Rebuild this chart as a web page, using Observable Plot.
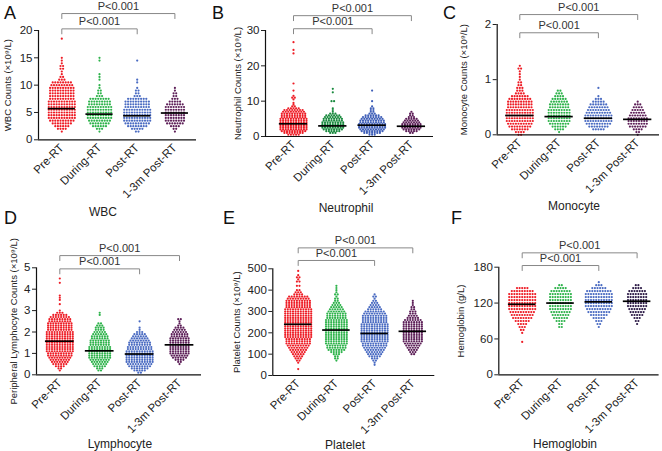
<!DOCTYPE html>
<html><head><meta charset="utf-8">
<script src="https://cdn.jsdelivr.net/npm/d3@7"></script>
<script src="https://cdn.jsdelivr.net/npm/@observablehq/plot@0.6"></script>
<style>
body{margin:0;background:#fff;font-family:"Liberation Sans",Arial,sans-serif}
#fig{position:relative;width:662px;height:451px;overflow:hidden;background:#fff}
.panel{position:absolute}
.letter{position:absolute;font-size:18px;line-height:1;color:#111}
.title{position:absolute;font-size:12px;line-height:1;color:#222;transform:translate(-50%,-50%);white-space:nowrap}
</style></head><body><div id="fig"></div>
<script>
const groups = ["Pre-RT", "During-RT", "Post-RT", "1-3m Post-RT"];

// [value, number of patients at that level]
const wbcPre = [[1.5,1],[2,4],[2.5,6],[3,8],[3.5,10],[4,11],[4.5,11],[5,11],[5.5,11],[6,11],[6.5,11],[7,11],[7.5,10],[8,10],[8.5,10],[9,10],[9.5,10],[10,9],[10.5,8],[11,3],[11.5,2],[12,1],[12.5,1],[13,2],[13.5,2],[14,1],[14.5,1],[15,1],[18.5,1]];
const wbcDuring = [[1.5,1],[2,3],[2.5,6],[3,8],[3.5,9],[4,10],[4.5,10],[5,10],[5.5,10],[6,10],[6.5,9],[7,9],[7.5,8],[8,3],[8.5,2],[9,2],[9.5,1],[10,1],[11,1],[11.5,1],[12,1],[14.5,1],[15,1]];
const wbcPost = [[1.5,2],[2,5],[2.5,8],[3,10],[3.5,11],[4,11],[4.5,11],[5,11],[5.5,11],[6,10],[6.5,10],[7,10],[7.5,8],[8,3],[8.5,2],[9,2],[9.5,1],[10.5,1],[11,1],[14.5,1]];
const wbc13m = [[1.5,1],[2,2],[2.5,4],[3,7],[3.5,8],[4,8],[4.5,8],[5,8],[5.5,8],[6,8],[6.5,7],[7,5],[7.5,3],[8,2],[8.5,2],[9,1],[9.5,1]];
const wbcMedians = [5.7, 4.7, 4.4, 4.9];
const wbcTicks = [0, 5, 10, 15, 20];

const neuPre = [[0.5,5],[1,8],[1.5,10],[2,11],[2.5,11],[3,11],[3.5,11],[4,11],[4.5,11],[5,11],[5.5,10],[6,10],[6.5,10],[7,9],[7.5,8],[8,5],[8.5,2],[9,1],[9.5,1],[10.5,1],[11,2],[11.5,1],[13,1],[15,1],[23.5,1],[24.5,1],[26.7,1]];
const neuDuring = [[1,3],[1.5,6],[2,8],[2.5,9],[3,9],[3.5,9],[4,9],[4.5,8],[5,8],[5.5,7],[6,6],[6.5,3],[7,1],[7.5,1],[8,1],[10,2],[12.5,1],[13.5,1]];
const neuPost = [[0.5,3],[1,7],[1.5,9],[2,10],[2.5,11],[3,11],[3.5,11],[4,10],[4.5,10],[5,9],[5.5,8],[6,6],[6.5,3],[7,2],[7.5,2],[8,2],[8.5,1],[10,1],[13,1]];
const neu13m = [[1,2],[1.5,5],[2,7],[2.5,8],[3,8],[3.5,8],[4,7],[4.5,6],[5,5],[5.5,3],[6,2],[6.5,2],[7,1]];
const neuMedians = [3.6, 3.0, 3.2, 2.9];
const neuTicks = [0, 10, 20, 30];

const monoPre = [[0,2],[0.05,4],[0.1,7],[0.15,9],[0.2,10],[0.25,11],[0.3,11],[0.35,11],[0.4,11],[0.45,11],[0.5,10],[0.55,10],[0.6,10],[0.65,9],[0.7,7],[0.75,4],[0.8,3],[0.85,3],[0.9,2],[0.95,2],[1,1],[1.05,1],[1.1,1],[1.15,1],[1.2,2],[1.25,1]];
const monoDuring = [[0.05,1],[0.1,4],[0.15,6],[0.2,8],[0.25,9],[0.3,9],[0.35,9],[0.4,9],[0.45,9],[0.5,8],[0.55,8],[0.6,7],[0.65,6],[0.7,4],[0.75,3],[0.8,2]];
const monoPost = [[0.1,5],[0.15,8],[0.2,10],[0.25,11],[0.3,11],[0.35,11],[0.4,10],[0.45,9],[0.5,8],[0.55,7],[0.6,5],[0.65,3],[0.7,1],[0.85,1]];
const mono13m = [[0,1],[0.05,2],[0.1,4],[0.15,7],[0.2,8],[0.25,8],[0.3,8],[0.35,7],[0.4,6],[0.45,5],[0.5,4],[0.55,3],[0.6,1]];
const monoMedians = [0.35, 0.33, 0.30, 0.28];
const monoTicks = [0, 1, 2];

const lymPre = [[0.2,1],[0.3,2],[0.4,4],[0.5,6],[0.6,7],[0.7,8],[0.8,9],[0.9,10],[1,10],[1.1,11],[1.2,11],[1.3,11],[1.4,11],[1.5,11],[1.6,11],[1.7,11],[1.8,11],[1.9,11],[2,11],[2.1,10],[2.2,10],[2.3,10],[2.4,10],[2.5,9],[2.6,9],[2.7,8],[2.8,6],[2.9,3],[3,1],[3.3,1],[3.5,1],[3.6,1],[3.7,1],[4.3,1],[4.5,1]];
const lymDuring = [[0.2,2],[0.3,3],[0.4,5],[0.5,6],[0.6,7],[0.7,8],[0.8,9],[0.9,9],[1,9],[1.1,9],[1.2,9],[1.3,9],[1.4,8],[1.5,8],[1.6,8],[1.7,7],[1.8,7],[1.9,6],[2,5],[2.1,4],[2.2,4],[2.3,3],[2.4,2],[2.8,1],[2.9,1]];
const lymPost = [[0.1,2],[0.2,5],[0.3,7],[0.4,9],[0.5,10],[0.6,11],[0.7,11],[0.8,11],[0.9,11],[1,11],[1.1,11],[1.2,10],[1.3,10],[1.4,9],[1.5,9],[1.6,8],[1.7,7],[1.8,6],[1.9,5],[2,3],[2.1,1],[2.2,1],[2.5,1]];
const lym13m = [[0.5,1],[0.6,2],[0.7,4],[0.8,6],[0.9,7],[1,8],[1.1,8],[1.2,8],[1.3,8],[1.4,8],[1.5,8],[1.6,8],[1.7,8],[1.8,7],[1.9,7],[2,6],[2.1,5],[2.2,4],[2.3,2],[2.4,1],[2.5,1],[2.6,2]];
const lymMedians = [1.57, 1.12, 0.97, 1.4];
const lymTicks = [0, 1, 2, 3, 4, 5];

const pltPre = [[30,1],[60,1],[70,2],[80,3],[90,4],[100,5],[110,6],[120,7],[130,8],[140,9],[150,10],[160,10],[170,10],[180,11],[190,11],[200,11],[210,11],[220,11],[230,11],[240,11],[250,11],[260,11],[270,11],[280,11],[290,11],[300,11],[310,11],[320,10],[330,10],[340,10],[350,10],[360,9],[370,8],[380,4],[390,3],[400,2],[420,2],[440,2],[450,1],[460,2],[470,1],[490,1]];
const pltDuring = [[70,1],[80,2],[90,2],[100,3],[110,5],[120,7],[130,8],[140,8],[150,9],[160,9],[170,9],[180,9],[190,9],[200,9],[210,9],[220,9],[230,9],[240,9],[250,9],[260,9],[270,8],[280,8],[290,8],[300,7],[310,6],[320,5],[330,4],[340,3],[350,2],[360,2],[370,1],[380,2],[390,1],[400,1],[410,1],[420,1]];
const pltPost = [[50,1],[60,1],[70,2],[80,3],[90,5],[100,6],[110,7],[120,8],[130,9],[140,10],[150,10],[160,11],[170,11],[180,11],[190,11],[200,11],[210,11],[220,11],[230,11],[240,11],[250,10],[260,10],[270,10],[280,10],[290,9],[300,8],[310,6],[320,5],[330,4],[340,3],[350,2],[360,1],[370,2],[380,1]];
const plt13m = [[100,2],[110,3],[120,4],[130,5],[140,6],[150,7],[160,8],[170,8],[180,8],[190,8],[200,8],[210,8],[220,8],[230,8],[240,8],[250,8],[260,7],[270,5],[280,4],[290,3],[300,3],[310,2],[320,2],[330,1],[340,1],[350,1]];
const pltMedians = [240, 213, 197, 207];
const pltTicks = [0, 100, 200, 300, 400, 500];

const hgbPre = [[55,1],[70,1],[75,2],[80,3],[85,4],[90,6],[95,8],[100,9],[105,10],[110,11],[115,11],[120,11],[125,11],[130,11],[135,11],[140,9],[145,5]];
const hgbDuring = [[80,2],[85,2],[90,4],[95,6],[100,7],[105,8],[110,9],[115,9],[120,9],[125,9],[130,9],[135,9],[140,8],[145,5],[150,2]];
const hgbPost = [[80,1],[85,2],[90,3],[95,5],[100,7],[105,9],[110,10],[115,11],[120,11],[125,11],[130,11],[135,11],[140,10],[145,6],[150,3],[155,1]];
const hgb13m = [[85,1],[90,2],[95,3],[100,5],[105,6],[110,7],[115,8],[120,8],[125,8],[130,8],[135,8],[140,7],[145,4],[150,2]];
const hgbMedians = [118, 120, 122, 123];
const hgbTicks = [0, 60, 120, 180];

const pLabel = "P<0.001";

const colStd = ["#ee1c25", "#2eb34b", "#4a6bc2", "#5d1f58"];
const colNeu = ["#ee1c25", "#198a3e", "#3f5fb8", "#5d1f58"];
const colHgb = ["#ee1c25", "#2eb34b", "#4a6bc2", "#2c1a46"];

const panels = [
  {letter:"A", lx:4, ly:4, title:"WBC", tx:103, ty:212, yLabel:"WBC Counts (×10⁹/L)", labelDx:-31,
   data:[wbcPre,wbcDuring,wbcPost,wbc13m], medians:wbcMedians, ticks:wbcTicks, yMax:20, colors:colStd,
   brackets:[{to:2, level:20.3}, {to:3, level:23.1}],
   L:{left:0, top:0, width:200, height:205, axisX:38, c0:61.3, sp:37.7, end:196, y0:139.3, yTop:30}},
  {letter:"B", lx:212, ly:4, title:"Neutrophil", tx:346, ty:208, yLabel:"Neutrophil Counts (×10⁹/L)", labelDx:-28,
   data:[neuPre,neuDuring,neuPost,neu13m], medians:neuMedians, ticks:neuTicks, yMax:30, colors:colNeu,
   brackets:[{to:2, level:30.5}, {to:3, level:34.2}],
   L:{left:215, top:0, width:222, height:205, axisX:265, c0:293, sp:39.3, end:433, y0:136, yTop:30}},
  {letter:"C", lx:443, ly:4, title:"Monocyte", tx:574, ty:206, yLabel:"Monocyte Counts (×10⁹/L)", labelDx:-33,
   data:[monoPre,monoDuring,monoPost,mono13m], medians:monoMedians, ticks:monoTicks, yMax:2, colors:colStd,
   brackets:[{to:2, level:1.85}, {to:3, level:2.18}],
   L:{left:440, top:0, width:222, height:205, axisX:496.7, c0:519.3, sp:39.3, end:659, y0:134.3, yTop:24}},
  {letter:"D", lx:4, ly:209, title:"Lymphocyte", tx:120, ty:444, yLabel:"Peripheral Lymphocyte Counts (×10⁹/L)", labelDx:-23,
   data:[lymPre,lymDuring,lymPost,lym13m], medians:lymMedians, ticks:lymTicks, yMax:5, colors:colStd,
   brackets:[{to:2, level:4.95}, {to:3, level:5.57}],
   L:{left:0, top:215, width:205, height:236, axisX:36, c0:59.3, sp:39.9, end:201, y0:374.3, yTop:267.3}},
  {letter:"E", lx:223, ly:209, title:"Platelet", tx:345, ty:445, yLabel:"Platelet Counts (×10⁹/L)", labelDx:-36,
   data:[pltPre,pltDuring,pltPost,plt13m], medians:pltMedians, ticks:pltTicks, yMax:500, colors:colStd,
   brackets:[{to:2, level:539}, {to:3, level:598}],
   L:{left:215, top:215, width:223, height:236, axisX:272.3, c0:297.7, sp:38.2, end:434.3, y0:375, yTop:268.3}},
  {letter:"F", lx:451, ly:209, title:"Hemoglobin", tx:565, ty:444, yLabel:"Hemoglobin (g/L)", labelDx:-38,
   data:[hgbPre,hgbDuring,hgbPost,hgb13m], medians:hgbMedians, ticks:hgbTicks, yMax:180, colors:colHgb,
   brackets:[{to:2, level:182.8}, {to:3, level:204}],
   L:{left:440, top:215, width:222, height:236, axisX:498.3, c0:521.7, sp:38.3, end:658.6, y0:374.3, yTop:266.7}}
];

const fig = document.getElementById("fig");

for (const p of panels) {
  const L = p.L;
  const ML = L.axisX - L.left;
  const MR = L.left + L.width - L.end;
  const MT = L.yTop - L.top;
  const MB = L.top + L.height - L.y0;
  const xmin = -(L.c0 - L.axisX) / L.sp;
  const xmax = (L.end - L.c0) / L.sp;
  const pxY = (L.y0 - L.yTop) / p.yMax;
  const dotSp = 2.6 / L.sp;
  const drop = 5 / pxY;

  const dotMarks = p.data.map((rows, gi) => {
    const pts = [];
    for (const [v, n] of rows) for (let k = 0; k < n; k++) pts.push({x: gi + (k - (n - 1) / 2) * dotSp, y: v});
    return Plot.dot(pts, {x: "x", y: "y", r: 1.1, fill: p.colors[gi], stroke: "none"});
  });

  const medData = p.medians.map((v, g) => ({g, v}));
  const brLines = p.brackets.flatMap((b, i) => [
    {id: i, x: 0, y: b.level - drop}, {id: i, x: 0, y: b.level},
    {id: i, x: b.to, y: b.level}, {id: i, x: b.to, y: b.level - drop}
  ]);

  const chart = Plot.plot({
    width: L.width, height: L.height,
    marginLeft: ML, marginRight: MR, marginTop: MT, marginBottom: MB,
    style: {background: "none", overflow: "visible", fontFamily: "'Liberation Sans', Arial, sans-serif", color: "#222"},
    x: {domain: [xmin, xmax], axis: null},
    y: {domain: [0, p.yMax], axis: null},
    marks: [
      ...dotMarks,
      Plot.ruleY(medData, {y: "v", x1: d => d.g - 0.36, x2: d => d.g + 0.36, stroke: "#000", strokeWidth: 1.7}),
      Plot.axisY({ticks: p.ticks, tickSize: 4, tickPadding: 2, fontSize: 11.5, label: null, tickFormat: d => String(d)}),
      Plot.axisX({ticks: [0, 1, 2, 3], tickFormat: i => groups[i], tickRotate: -45, tickSize: 0, tickPadding: 6, fontSize: 11.5, label: null}),
      Plot.ruleX([xmin], {y1: 0, y2: p.yMax, stroke: "#111", strokeWidth: 1.2}),
      Plot.ruleY([0], {stroke: "#111", strokeWidth: 1.2}),
      Plot.text([p.yLabel], {text: d => d, frameAnchor: "left", textAnchor: "middle", rotate: -90, dx: p.labelDx, fontSize: 9.5, fill: "#222"}),
      Plot.line(brLines, {x: "x", y: "y", z: "id", stroke: "#888", strokeWidth: 1}),
      Plot.text(p.brackets, {x: b => b.to / 2, y: "level", text: () => pLabel, dy: -7, fontSize: 11, fill: "#333"})
    ]
  });
  chart.classList.add("panel");
  chart.style.left = L.left + "px";
  chart.style.top = L.top + "px";
  fig.appendChild(chart);

  const letter = document.createElement("div");
  letter.className = "letter";
  letter.textContent = p.letter;
  letter.style.left = p.lx + "px";
  letter.style.top = p.ly + "px";
  fig.appendChild(letter);

  const title = document.createElement("div");
  title.className = "title";
  title.textContent = p.title;
  title.style.left = p.tx + "px";
  title.style.top = p.ty + "px";
  fig.appendChild(title);
}
</script>
</body></html>
